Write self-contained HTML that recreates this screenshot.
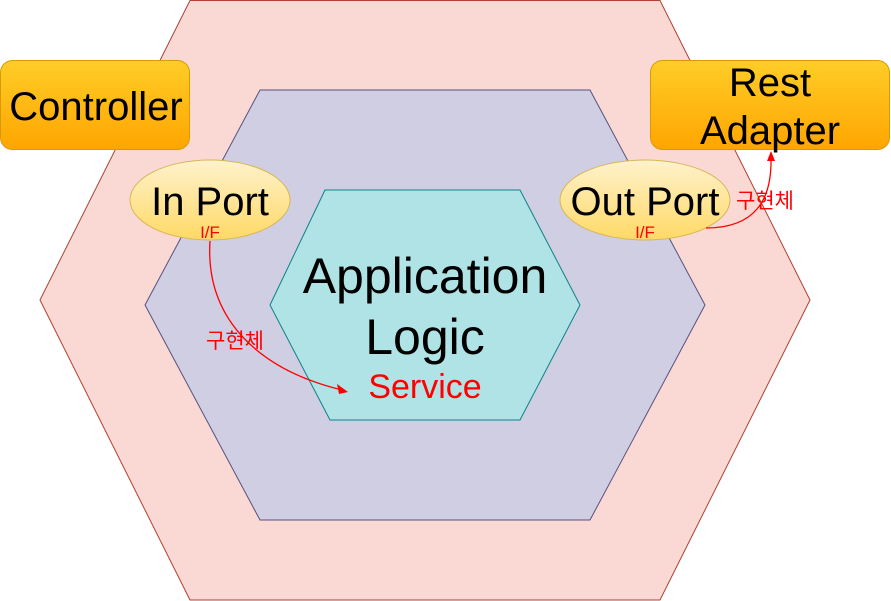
<!DOCTYPE html>
<html><head><meta charset="utf-8"><style>body{margin:0;background:#fff}svg{display:block}text{font-family:"Liberation Sans","Noto Sans CJK KR",sans-serif}</style></head><body>
<svg width="891" height="601" viewBox="0 0 891 601" xmlns="http://www.w3.org/2000/svg">
<defs>
<linearGradient id="o" x1="0" y1="0" x2="0" y2="1"><stop offset="0" stop-color="#ffcd28"/><stop offset="1" stop-color="#ffa500"/></linearGradient>
<linearGradient id="y" x1="0" y1="0" x2="0" y2="1"><stop offset="0" stop-color="#fff2cc"/><stop offset="1" stop-color="#ffd966"/></linearGradient>
</defs>
<polygon points="190,0.5 660,0.5 810,300 660,600 190,600 40,300" fill="#fad9d5" stroke="#ae4132"/>
<polygon points="260,90 590,90 705,305 590,520 260,520 145,305" fill="#d0cee2" stroke="#56517e"/>
<polygon points="325,190 520,190 580,305 520,420 330,420 270,305" fill="#b0e3e6" stroke="#0e8088"/>
<rect x="0.5" y="60.5" width="189" height="89" rx="12" fill="url(#o)" stroke="#d79b00"/>
<text x="96" y="120" font-size="40" text-anchor="middle">Controller</text>
<rect x="650.5" y="60.5" width="239" height="89" rx="12" fill="url(#o)" stroke="#d79b00"/>
<text x="770" y="96" font-size="40" text-anchor="middle">Rest</text>
<text x="770" y="144" font-size="40" text-anchor="middle">Adapter</text>
<ellipse cx="210" cy="200" rx="80" ry="40" fill="url(#y)" stroke="#d6b656"/>
<text x="210" y="215" font-size="40" text-anchor="middle">In Port</text>
<text x="210" y="238" font-size="17" fill="#f00" text-anchor="middle">I/F</text>
<ellipse cx="645" cy="200" rx="85" ry="40" fill="url(#y)" stroke="#d6b656"/>
<text x="645" y="215" font-size="40" text-anchor="middle">Out Port</text>
<text x="645" y="238" font-size="17" fill="#f00" text-anchor="middle">I/F</text>
<text x="425" y="293" font-size="50" text-anchor="middle">Application</text>
<text x="425" y="354" font-size="50" text-anchor="middle">Logic</text>
<text x="425" y="398" font-size="34" fill="#f00" text-anchor="middle">Service</text>
<path d="M210,241 C205,320 260,370 342,390" fill="none" stroke="#f00" stroke-width="1.3"/>
<polygon points="348,392 337,384 339,394" fill="#f00"/>
<text x="235" y="348" font-size="21" fill="#f00" text-anchor="middle">구현체</text>
<path d="M706,228 C755,228 772,200 771,158" fill="none" stroke="#f00" stroke-width="1.3"/>
<polygon points="771,151 767,161 775,161" fill="#f00"/>
<text x="765" y="208" font-size="21" fill="#f00" text-anchor="middle">구현체</text>
</svg>
</body></html>
